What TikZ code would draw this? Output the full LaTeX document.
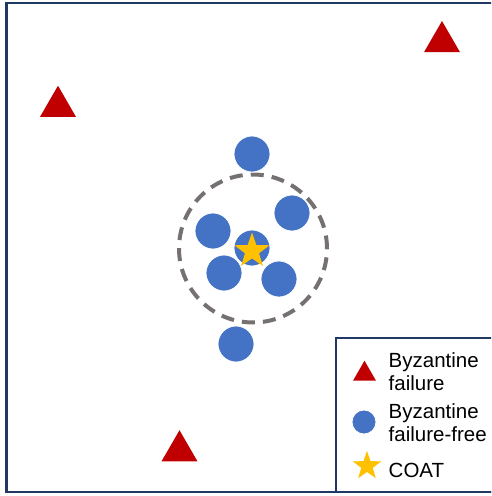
\documentclass[tikz,border=0pt]{standalone}
\usepackage{fontspec}
\setmainfont{Liberation Sans}
\usepackage{xcolor}
\usetikzlibrary{shapes.geometric}

\definecolor{faultred}{HTML}{C00000}
\definecolor{nodeblue}{HTML}{4472C4}
\definecolor{coatgold}{HTML}{FFC000}
\definecolor{framenavy}{HTML}{203864}
\definecolor{ringgray}{HTML}{767171}

\begin{document}
\begin{tikzpicture}[x=1pt, y=-1pt,
    faulty/.style={regular polygon, regular polygon sides=3, fill=faultred, inner sep=0pt, minimum size=#1},
    faulty/.default=41.6,
    honest/.style={circle, fill=nodeblue, draw=white, line width=0.8pt, inner sep=0pt, minimum size=#1},
    honest/.default=36,
    coat/.style={star, star points=5, star point ratio=2.5, fill=coatgold, inner sep=0pt, minimum size=#1},
    coat/.default=37,
    legtext/.style={anchor=west, align=left, inner sep=0pt, font=\fontsize{20.5}{23}\selectfont}]
    \clip (0,0) rectangle (491,496);
    \useasboundingbox (0,0) rectangle (491,496);

    % Outer frame
    \draw[framenavy, line width=2.4pt] (6.5,3) rectangle (500,492);

    % Byzantine failure nodes
    \node[faulty] (T1) at (442,41.8) {};
    \node[faulty] (T2) at (58,106.5) {};
    \node[faulty] (T3) at (179.5,451) {};

    % Dashed ring around the COAT
    \node[circle, draw=ringgray, line width=4pt, dash pattern=on 13pt off 8.1pt, minimum size=148pt, inner sep=0pt] (R) at (253,248.5) {};

    % Byzantine failure-free nodes
    \node[honest] (N1) at (252,154) {};
    \node[honest] (N2) at (292,213) {};
    \node[honest] (N3) at (213,231) {};
    \node[honest] (N4) at (224,273) {};
    \node[honest] (N5) at (279,279) {};
    \node[honest] (N6) at (236,344) {};
    \node[honest] (N7) at (252,248) {};

    % COAT
    \node[coat] (S) at (252,251) {};

    % Legend
    \draw[framenavy, line width=2pt, fill=white] (335.5,337.5) rectangle (500,492);
    \node[faulty=26.5] (LT) at (364.5,374) {};
    \node[legtext] (LTtext) at (388.5,371.3) {Byzantine\\failure};
    \node[honest=24] (LN) at (364,422) {};
    \node[legtext] (LNtext) at (388.5,422.7) {Byzantine\\failure-free};
    \node[coat=30] (LS) at (367,466) {};
    \node[legtext, anchor=base west] (LStext) at (388.5,477) {COAT};
  \end{tikzpicture}
\end{document}
